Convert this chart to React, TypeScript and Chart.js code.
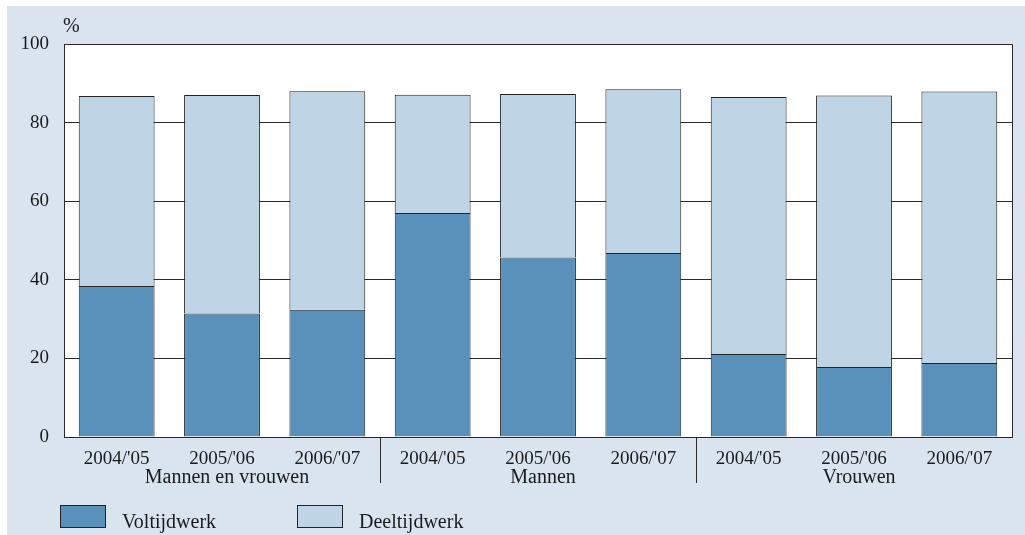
import React, { useEffect, useRef } from "react";
import { Chart, registerables } from "chart.js";

Chart.register(...registerables);

const categories = ["2004/'05", "2005/'06", "2006/'07", "2004/'05", "2005/'06", "2006/'07", "2004/'05", "2005/'06", "2006/'07"];
const groups = ["Mannen en vrouwen", "Mannen", "Vrouwen"];
const voltijd = [38.4, 31.4, 32.4, 57.0, 45.7, 46.8, 21.1, 17.8, 18.8];
const deeltijd = [48.4, 55.6, 55.6, 30.1, 41.6, 41.7, 65.4, 69.1, 69.1];
const seriesNames = ["Voltijdwerk", "Deeltijdwerk"];
const unitLabel = "%";

const FONT = "'Liberation Serif', 'Times New Roman', serif";
const DARK = "#5a91bb";
const LIGHT = "#bfd4e5";
const BG = "#d9e4ee";
const INK = "#1a1a1a";

const decorPlugin = {
  id: "decor",
  beforeDraw(chart: any) {
    const { ctx, chartArea } = chart;
    ctx.save();
    ctx.fillStyle = "#ffffff";
    ctx.fillRect(chartArea.left, chartArea.top, chartArea.right - chartArea.left, chartArea.bottom - chartArea.top);
    ctx.restore();
  },
  afterDraw(chart: any) {
    const { ctx, chartArea } = chart;
    const x = chart.scales.x;
    ctx.save();
    // plot border (top & right)
    ctx.strokeStyle = "#2a2a2a";
    ctx.lineWidth = 1;
    ctx.beginPath();
    ctx.moveTo(chartArea.left, chartArea.top + 0.5);
    ctx.lineTo(chartArea.right + 0.5, chartArea.top + 0.5);
    ctx.lineTo(chartArea.right + 0.5, chartArea.bottom);
    ctx.stroke();

    // group separators
    for (const b of [2, 5]) {
      const px = Math.round((x.getPixelForValue(b) + x.getPixelForValue(b + 1)) / 2) + 0.5;
      ctx.beginPath();
      ctx.moveTo(px, chartArea.bottom);
      ctx.lineTo(px, chartArea.bottom + 46);
      ctx.stroke();
    }

    // group labels
    ctx.fillStyle = INK;
    ctx.font = `20px ${FONT}`;
    ctx.textAlign = "center";
    ctx.textBaseline = "alphabetic";
    groups.forEach((g, i) => {
      const cx = x.getPixelForValue(i * 3 + 1) + 5;
      ctx.fillText(g, cx, chartArea.bottom + 46);
    });

    // unit label
    ctx.textAlign = "left";
    ctx.font = `20px ${FONT}`;
    ctx.fillText(unitLabel, chartArea.left - 1, chartArea.top - 12);

    // legend
    const colors = [DARK, LIGHT];
    const boxX = [53, 290];
    ctx.font = `20px ${FONT}`;
    seriesNames.forEach((name, i) => {
      ctx.fillStyle = colors[i];
      ctx.fillRect(boxX[i], 499, 46, 23);
      ctx.strokeStyle = "#222";
      ctx.strokeRect(boxX[i] + 0.5, 499.5, 45, 22);
      ctx.fillStyle = INK;
      ctx.fillText(name, boxX[i] + 62, 522);
    });
    ctx.restore();
  },
};

export default function App() {
  const ref = useRef<HTMLCanvasElement | null>(null);

  useEffect(() => {
    if (!ref.current) return;
    const chart = new Chart(ref.current, {
      type: "bar",
      data: {
        labels: categories,
        datasets: [
          {
            label: seriesNames[0],
            data: voltijd,
            backgroundColor: DARK,
            borderColor: "#222",
            borderWidth: 1,
          },
          {
            label: seriesNames[1],
            data: deeltijd,
            backgroundColor: LIGHT,
            borderColor: "#222",
            borderWidth: 1,
          },
        ],
      },
      options: {
        responsive: false,
        animation: false,
        devicePixelRatio: 1,
        layout: { padding: { top: 38, right: 13, left: 0, bottom: 0 } },
        datasets: { bar: { barPercentage: 0.72, categoryPercentage: 1 } },
        plugins: {
          legend: { display: false },
          tooltip: { enabled: false },
          title: { display: false },
        },
        scales: {
          x: {
            stacked: true,
            grid: { display: false, drawTicks: false },
            border: { display: true, color: "#2a2a2a", width: 1 },
            ticks: { color: INK, font: { family: FONT, size: 19 }, padding: 11, maxRotation: 0, autoSkip: false },
            afterFit: (s: any) => {
              s.height = 98;
            },
          },
          y: {
            stacked: true,
            min: 0,
            max: 100,
            grid: { color: "#2a2a2a", lineWidth: 1, drawTicks: false },
            border: { display: true, color: "#2a2a2a", width: 1 },
            ticks: { stepSize: 20, color: INK, font: { family: FONT, size: 19 }, padding: 15 },
            afterFit: (s: any) => {
              s.width = 57;
            },
          },
        },
      },
      plugins: [decorPlugin],
    });
    return () => chart.destroy();
  }, []);

  return (
    <div style={{ position: "absolute", left: 7, top: 6, width: 1018, height: 529, background: BG }}>
      <canvas ref={ref} width={1018} height={529} style={{ display: "block" }} />
    </div>
  );
}
